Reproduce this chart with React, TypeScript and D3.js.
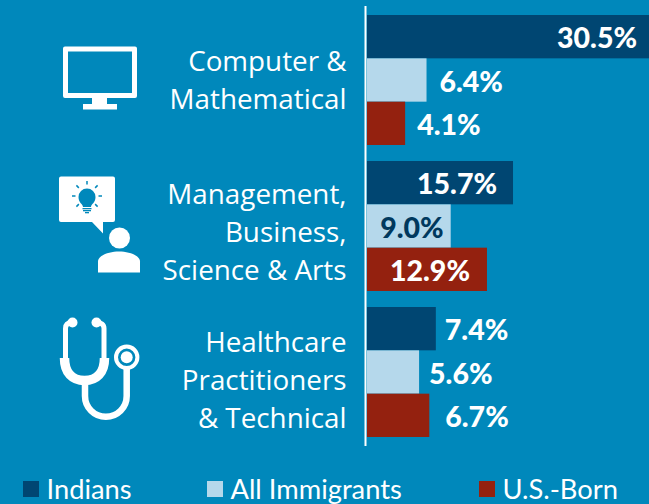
import React from "react";
import * as d3 from "d3";

const categories = ["Computer & Mathematical", "Management, Business, Science & Arts", "Healthcare Practitioners & Technical"];
const categoryLines = [["Computer &", "Mathematical"], ["Management,", "Business,", "Science & Arts"], ["Healthcare", "Practitioners", "& Technical"]];
const labelFirstBaselines = [71, 204, 352];
const seriesNames = ["Indians", "All Immigrants", "U.S.-Born"];
const seriesColors = ["#004672", "#b5d8eb", "#94210f"];
const indians = [30.5, 15.7, 7.4];
const allImmigrants = [6.4, 9.0, 5.6];
const usBorn = [4.1, 12.9, 6.7];
const seriesValues = [indians, allImmigrants, usBorn];
const labelGaps = [[0, 16, 9], [13, 7, 10], [12, 17, 16]];
const legendX = [23, 207, 479];

const W = 649, H = 504, BG = "#0088bb";
const x = d3.scaleLinear().domain([0, 30.5]).range([367, 650.65]);
const outer = d3.scaleBand().domain(categories).range([15, 437]).paddingInner(16 / 146).paddingOuter(0);
const inner = d3.scaleBand().domain(seriesNames).range([0, outer.bandwidth()]);

function Monitor() {
  return (
    <g fill="#fff">
      <path fillRule="evenodd" d="M65 46.500h70a2 2 0 0 1 2 2v47.500a2 2 0 0 1-2 2H65a2 2 0 0 1-2-2v-47.500a2 2 0 0 1 2-2ZM68 51.500v41.500h64v-41.500Z" />
      <rect x="92" y="98" width="15" height="6" />
      <rect x="83" y="104" width="34" height="5.500" />
    </g>
  );
}

function Idea() {
  const rays = d3.range(7).map((i) => (-225 + i * 45) * Math.PI / 180);
  return (
    <g>
      <path fill="#fff" d="M61 176.500h52a2 2 0 0 1 2 2v41.500a2 2 0 0 1-2 2H103v11.500l-11-11.500H61a2 2 0 0 1-2-2v-41.500a2 2 0 0 1 2-2Z" />
      <circle cx="119.500" cy="238" r="10.500" fill="#fff" />
      <path fill="#fff" d="M98 272.500v-11c0-6 11-10 21-10s21 4 21 10v11Z" />
      {rays.map((a, i) => (
        <line key={i} x1={87 + 11.500 * Math.cos(a)} y1={196 + 11.500 * Math.sin(a)} x2={87 + 15 * Math.cos(a)} y2={196 + 15 * Math.sin(a)} stroke={BG} strokeWidth="1.500" />
      ))}
      <path fill={BG} d="M83 207c0-3-4.500-4-4.500-10a8.500 8.500 0 0 1 17 0c0 6-4.500 7-4.500 10Z" />
      <rect x="82.500" y="208" width="9" height="1.300" fill={BG} />
      <rect x="83" y="210" width="8" height="1.300" fill={BG} />
      <rect x="85" y="212" width="4" height="1.300" fill={BG} />
    </g>
  );
}

function Stethoscope() {
  return (
    <g fill="none" stroke="#fff">
      <path strokeWidth="5" d="M72 322.500c-4 0-6.500 2-6.500 6v33" />
      <path strokeWidth="5" d="M97 322.500c4 0 7 2 7 6v33" />
      <circle cx="72.500" cy="322.500" r="5" fill="#fff" stroke="none" />
      <circle cx="96.500" cy="322.500" r="5" fill="#fff" stroke="none" />
      <path strokeWidth="9.500" d="M64.500 358c0 15 8 22.500 20 22.500s20-7.500 20-22.500" />
      <path strokeWidth="6.500" d="M85 382v14a20.800 20.800 0 0 0 41.700 0v-28" />
      <circle cx="126.700" cy="357.300" r="10.700" strokeWidth="4" />
      <circle cx="126.700" cy="357.300" r="6" fill="#fff" stroke="none" />
    </g>
  );
}

export default function App() {
  return (
    <svg width={W} height={H} viewBox={`0 0 ${W} ${H}`} style={{ position: "fixed", left: 0, top: 0, display: "block" }}>
      <rect width={W} height={H} fill={BG} />
      <Monitor />
      <Idea />
      <Stethoscope />
      {categories.map((c, ci) => (
        <g key={c}>
          {seriesNames.map((s, si) => {
            const v = seriesValues[si][ci];
            const y = outer(c)! + inner(s)!;
            const inside = v >= 9;
            const dark = si === 1;
            return (
              <g key={s}>
                <rect x={x(0)} y={y} width={x(v) - x(0)} height={inner.bandwidth()} fill={seriesColors[si]} />
                <text
                  x={v > 30 ? 637 : inside ? x(v) - labelGaps[si][ci] : x(v) + labelGaps[si][ci]}
                  y={y + inner.bandwidth() / 2 + 11.500}
                  textAnchor={inside ? "end" : "start"}
                  fontFamily="Lato, sans-serif"
                  fontWeight="900"
                  fontSize="28.500"
                  fill={dark && inside ? "#00395e" : "#fff"}
                >
                  {v.toFixed(1)}%
                </text>
              </g>
            );
          })}
          {categoryLines[ci].map((line, li) => (
            <text key={li} x={346.500} y={labelFirstBaselines[ci] + li * 38} textAnchor="end" fontFamily="'Open Sans', sans-serif" fontSize="27.800" fill="#fff">
              {line}
            </text>
          ))}
        </g>
      ))}
      <line x1={365.500} x2={365.500} y1={6} y2={446} stroke="#fff" strokeWidth="2" />
      {seriesNames.map((s, i) => (
        <g key={s}>
          <rect x={legendX[i]} y={481} width={16} height={16} fill={seriesColors[i]} />
          <text x={legendX[i] + 23.500} y={499} fontFamily="Lato, sans-serif" fontSize="27.300" fill="#fff">{s}</text>
        </g>
      ))}
    </svg>
  );
}
